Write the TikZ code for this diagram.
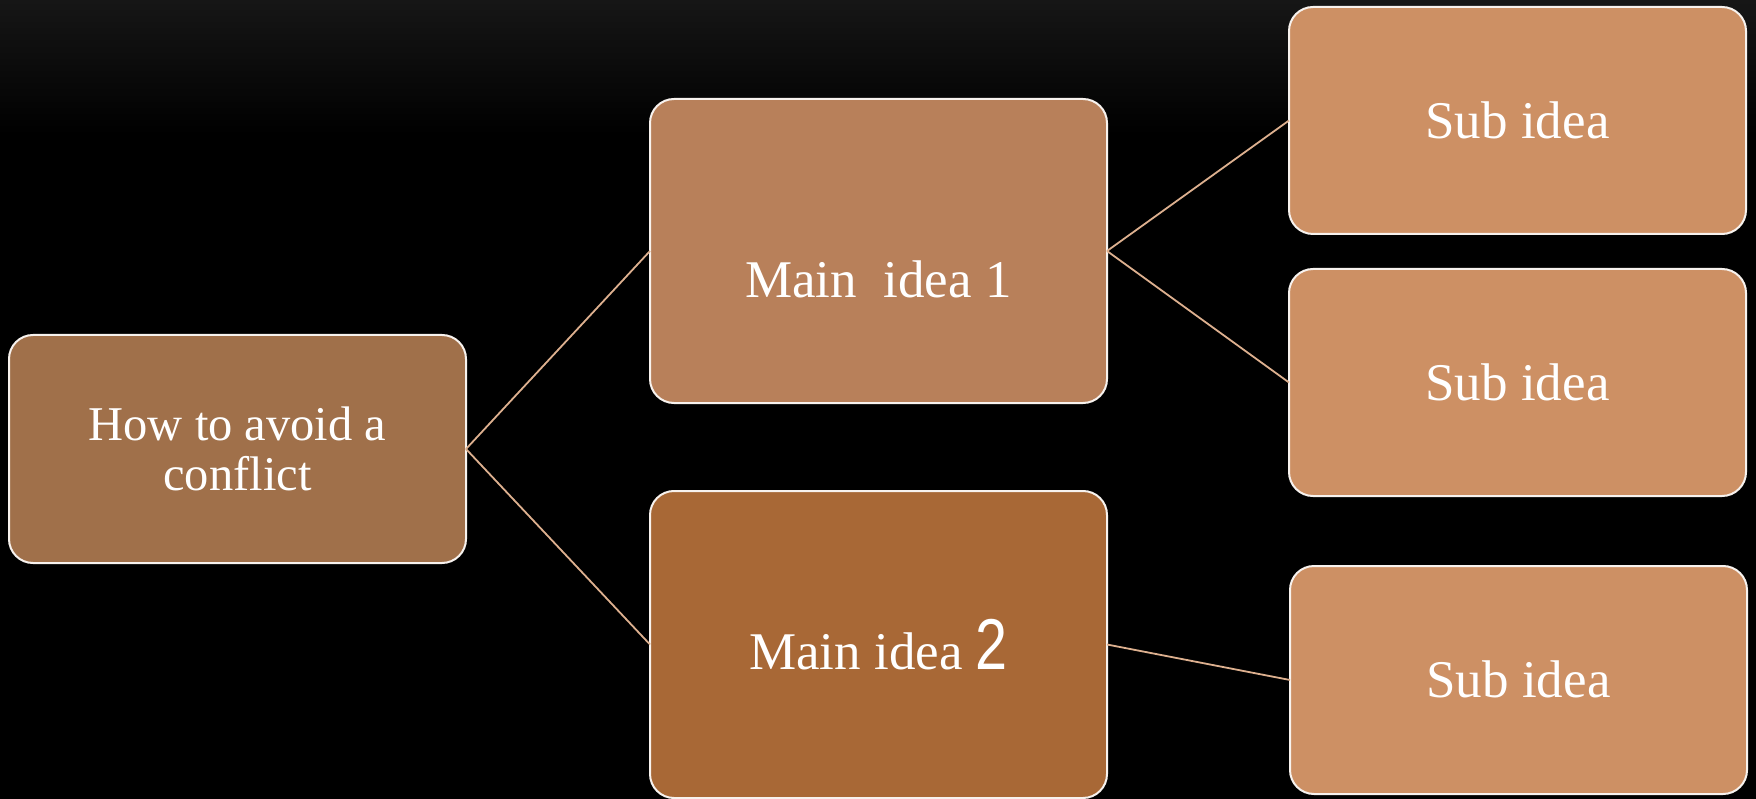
\documentclass[tikz,border=0pt]{standalone}
\usepackage{fontspec}
\setmainfont{Liberation Serif}
\newfontfamily\digitfont{Liberation Sans}
\definecolor{rootfill}{HTML}{A0704A}
\definecolor{mainonefill}{HTML}{B8805A}
\definecolor{maintwofill}{HTML}{A86836}
\definecolor{subfill}{HTML}{CD9064}
\definecolor{edgecol}{HTML}{DDB08F}
\definecolor{bordercol}{HTML}{F7F2EE}
\definecolor{topgray}{HTML}{161616}
\begin{document}
\begin{tikzpicture}[x=1pt,y=-1pt,
  box/.style={draw=bordercol, line width=2pt, rounded corners=24pt,
    rectangle, minimum width=457pt, inner sep=0pt, outer sep=0pt,
    text=white, font=\fontsize{53}{60}\selectfont},
  conn/.style={draw=edgecol, line width=1.8pt}]
\useasboundingbox (0,0) rectangle (1756,799);
\fill[black] (0,0) rectangle (1756,799);
\shade[top color=topgray, bottom color=black] (0,0) rectangle (1756,135);
\begin{scope}
\clip (0,0) rectangle (1756,799);
\node[box, fill=rootfill, minimum height=228pt, align=center,
  font=\fontsize{48.5}{50}\selectfont] (root) at (237.5,449) {How to avoid a\\conflict};
\node[box, fill=mainonefill, minimum height=304pt, text height=93pt, text depth=0pt] (m1) at (878.5,251) {Main\ \ idea 1};
\node[box, fill=maintwofill, minimum height=307pt, text height=49pt, text depth=0pt] (m2) at (878.5,644.5) {Main idea {\digitfont\fontsize{72}{72}\selectfont\scalebox{0.8}[1]{2}}};
\node[box, fill=subfill, minimum height=227pt, text height=35.1pt, text depth=0pt] (s1) at (1517.5,120.5) {Sub idea};
\node[box, fill=subfill, minimum height=227pt, text height=35.1pt, text depth=0pt] (s2) at (1517.5,382.5) {Sub idea};
\node[box, fill=subfill, minimum height=228pt, text height=35.1pt, text depth=0pt] (s3) at (1518.5,680) {Sub idea};
\end{scope}
\draw[conn] (root.east) -- (m1.west);
\draw[conn] (root.east) -- (m2.west);
\draw[conn] (m1.east) -- (s1.west);
\draw[conn] (m1.east) -- (s2.west);
\draw[conn] (m2.east) -- (s3.west);
\end{tikzpicture}
\end{document}
